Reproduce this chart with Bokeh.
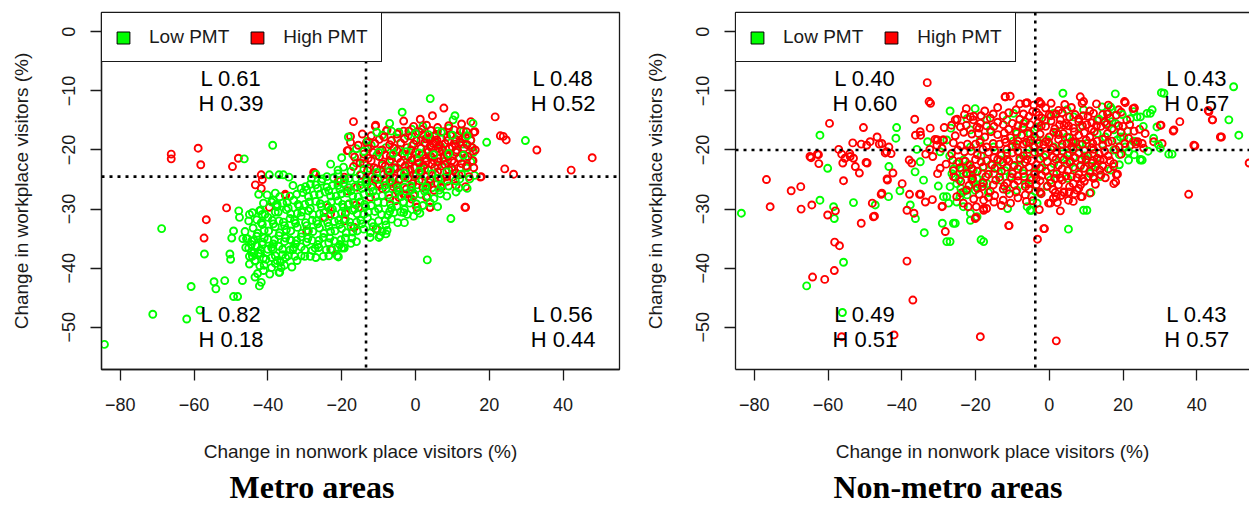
from bokeh.plotting import figure
from bokeh.models import Span, Legend, LegendItem, Title, LinearAxis, FixedTicker, ColumnDataSource, Range1d
from bokeh.layouts import row
from bokeh.embed import file_html
from bokeh.resources import INLINE
from bokeh.core.properties import value

# ---------------- data ----------------
x_ticks = [-80, -60, -40, -20, 0, 20, 40]
y_ticks = [-50, -40, -30, -20, -10, 0]
series_names = ["Low PMT", "High PMT"]
series_colors = ["#00ff00", "#ff0000"]
x_label = "Change in nonwork place visitors (%)"
y_label = "Change in workplace visitors (%)"
panel_titles = ["Metro areas", "Non-metro areas"]

quad_x = [-50, 40, -50, 40]
quad_y = [-10, -10, -50, -50]
metro_L = ["L 0.61", "L 0.48", "L 0.82", "L 0.56"]
metro_H = ["H 0.39", "H 0.52", "H 0.18", "H 0.44"]
nonmetro_L = ["L 0.40", "L 0.43", "L 0.49", "L 0.43"]
nonmetro_H = ["H 0.60", "H 0.57", "H 0.51", "H 0.57"]

metro_median_x = -13.4
metro_median_y = -24.5
nonmetro_median_x = -3.8
nonmetro_median_y = -20.0

metro_low = [
    (-84.3,-52.9),(-71.2,-47.8),(-62.0,-48.6),(-58.4,-47.1),(-60.8,-43.1),(-68.8,-33.3),(-57.2,-37.6),
    (-54.6,-42.3),(-54.1,-43.5),(-51.7,-42.1),(-49.3,-44.8),(-48.2,-44.8),(-46.9,-42.1),(-50.3,-37.6),
    (-50.1,-38.5),(-49.8,-34.9),(-49.3,-33.7),(-47.9,-30.3),(-47.7,-31.4),(-46.4,-21.5),(-38.7,-19.2),
    (-45.0,-30.9),(-42.5,-27.5),(-42.3,-30.3),(-43.4,-38.7),(-45.0,-39.3),(-42.3,-43.0),(-41.8,-42.4),
    (-41.2,-40.4),(-42.8,-40.9),(-45.5,-35.0),(-44.4,-35.4),(-39.6,-24.2),(-37.0,-24.2),(-35.8,-24.2),
    (-34.3,-24.6),(3.2,-38.6),(9.6,-31.6),(19.3,-18.7),(29.8,-18.4),(4.0,-11.3),(10.7,-14.2),(10.2,-14.9),
    (-3.6,-13.6),(15.6,-15.5),(12.9,-19.0),(15.0,-18.4),(15.2,-19.6),(-7.0,-15.5),(-18.2,-17.8),
    (-12.3,-34.8),(-9.6,-34.5),(-8.0,-34.2),(-7.7,-33.6),(-3.2,-30.6),(3.2,-28.0),(3.2,-26.3),(3.7,-25.5),
    (-19.3,-36.6),(-20.9,-38.1),(-26.2,-36.5),(-30.0,-38.0),(-32.1,-38.7),(-32.7,-38.0),(-37.0,-40.7),
    (-36.4,-39.9),(-38.0,-39.2),(15.7,-20.4),(13.8,-23.0),(-9.9,-34.8),(-7.0,-30.4),(-19.5,-36.5),
    (-21.2,-37.9),(-41.5,-36.0),(-43.8,-37.4),(-38.6,-28.5),(-37.5,-29.2),(-41.5,-30.9),(-45.8,-35.0),
    (-44.5,-37.3),(-42.6,-37.5),(-38.6,-36.8),(-36.6,-39.0),(-36.8,-40.7),(-33.2,-36.8),(-33.7,-35.3),
    (-1.0,-16.5),(2.0,-16.0),(6.0,-16.8),(9.0,-16.3),(13.0,-16.8),(-4.5,-17.0),
    (-13.0,-18.5),(-9.0,-17.5),(-5.0,-18.0),(-2.0,-17.6),(1.5,-18.3),(5.0,-18.6),(8.5,-17.8),(11.0,-18.2),
    (-16.0,-19.8),(-12.0,-19.2),(-8.0,-19.6),(-4.5,-19.9),(-1.0,-19.3),(3.0,-20.0),(7.0,-19.5),(11.0,-20.3),
    (-20.0,-21.3),(-17.0,-20.8),(-14.0,-21.5),(-10.5,-20.9),(-6.5,-21.6),(-3.0,-21.0),(0.5,-21.8),(4.0,-21.2),
    (8.0,-21.9),(12.0,-21.4),(15.0,-22.0),
    (-23.0,-22.4),(-19.5,-22.9),(-16.0,-22.2),(-12.5,-23.1),(-9.0,-22.6),(-5.0,-23.0),(-1.5,-22.4),(2.5,-23.2),
    (6.0,-22.7),(10.0,-23.4),(14.0,-23.0),
    (-27.0,-24.1),(-24.0,-24.5),(-21.0,-24.0),(-18.0,-24.8),(-15.0,-24.2),(-11.0,-24.7),(-7.5,-24.3),(-4.0,-24.9),
    (0.0,-24.4),(4.0,-25.0),(8.0,-24.6),(12.0,-24.9),(16.0,-24.3),
    (-31.0,-26.5),(-28.5,-25.8),(-25.5,-25.3),(-22.5,-26.0),(-19.5,-25.6),(-16.5,-26.2),(-13.5,-25.4),(-10.0,-26.1),
    (-6.5,-25.7),(-3.0,-26.3),(0.5,-25.9),(4.5,-26.4),(9.0,-26.1),(14.0,-26.5),
    (-38.0,-27.3),(-34.0,-27.8),(-30.5,-27.2),(-27.5,-27.6),(-24.5,-27.1),(-21.5,-27.8),(-18.5,-27.3),(-15.5,-27.9),
    (-12.5,-27.2),(-9.0,-27.7),(-5.5,-27.4),(-2.0,-28.0),(1.5,-27.5),(5.0,-28.2),(8.5,-27.8),
    (-39.0,-28.8),(-36.0,-29.0),(-33.0,-28.5),(-30.0,-29.2),(-27.0,-28.7),(-24.0,-29.3),(-21.0,-28.6),(-18.0,-29.1),
    (-15.0,-28.8),(-12.0,-29.4),(-8.5,-28.9),(-5.0,-29.5),(-1.5,-29.0),(2.0,-29.4),(6.0,-29.6),
    (-42.0,-30.2),(-38.0,-30.5),(-35.0,-30.1),(-32.0,-30.7),(-29.0,-30.3),(-26.0,-30.8),(-23.0,-30.1),(-20.0,-30.6),
    (-17.0,-30.2),(-14.0,-30.9),(-11.0,-30.4),(-7.5,-31.0),(-4.0,-30.5),(-0.5,-31.2),
    (-43.0,-31.8),(-40.0,-31.4),(-37.0,-32.0),(-34.0,-31.6),(-31.0,-31.2),(-28.0,-31.9),(-25.0,-31.5),(-22.0,-32.1),
    (-19.0,-31.7),(-16.0,-32.2),(-13.0,-31.5),(-10.0,-32.0),(-6.5,-31.7),(-3.0,-32.3),
    (-44.0,-33.2),(-41.0,-33.6),(-38.0,-33.0),(-35.0,-33.5),(-32.0,-33.1),(-29.0,-33.7),(-26.0,-33.2),(-23.0,-33.8),
    (-20.0,-33.3),(-17.0,-33.9),(-14.0,-33.4),(-10.4,-33.4),
    (-43.0,-34.6),(-40.0,-35.1),(-37.0,-34.5),(-34.0,-35.2),(-31.0,-34.7),(-28.0,-35.3),(-25.0,-34.8),(-22.0,-35.4),
    (-19.0,-34.9),(-16.0,-35.5),
    (-46.0,-36.5),(-43.0,-36.2),(-40.0,-36.8),(-37.0,-36.3),(-34.0,-36.9),(-31.0,-36.4),(-28.0,-37.0),(-23.0,-36.8),
    (-21.0,-36.5),
    (-45.0,-38.0),(-42.0,-37.5),(-39.0,-38.2),(-36.0,-37.7),(-25.0,-38.0),
    (-41.0,-39.5),(-39.5,-41.0),(-43.5,-41.5),
    (-10.5,-17.0),(-6.5,-16.8),(0.0,-17.2),(3.5,-17.4),(7.0,-17.0),(10.0,-17.5),(14.0,-17.6),
    (-14.0,-20.2),(-10.0,-20.4),(-6.0,-20.6),(-2.5,-20.3),(1.0,-20.5),(5.0,-20.8),(9.0,-20.6),(13.0,-20.9),
    (-21.0,-23.4),(-17.5,-23.6),(-14.0,-23.3),(-10.5,-23.8),(-7.0,-23.5),(-3.0,-23.9),(1.0,-23.6),(4.5,-24.0),
    (8.5,-23.7),(12.5,-24.1),
    (-29.5,-26.8),(-26.5,-26.5),(-23.5,-26.9),(-20.5,-26.6),(-17.5,-26.9),(-14.5,-26.5),(-11.5,-27.0),(-8.0,-26.6),
    (-4.5,-26.9),(-1.0,-26.7),(2.5,-27.0),(6.5,-26.8),(11.0,-27.1),
    (-37.5,-29.6),(-34.5,-29.8),(-31.5,-29.5),(-28.5,-29.9),(-25.5,-29.6),(-22.5,-30.0),(-19.5,-29.7),(-16.5,-30.0),
    (-13.5,-29.6),(-10.0,-30.0),(-6.5,-29.8),(-3.0,-30.1),(0.5,-30.3),
    (-41.5,-32.6),(-38.5,-32.5),(-35.5,-32.8),(-32.5,-32.4),(-29.5,-32.8),(-26.5,-32.5),(-23.5,-32.9),(-20.5,-32.6),
    (-17.5,-32.9),(-14.5,-32.5),(-11.5,-33.0),(-8.0,-32.7),
    (-44.5,-36.0),(-41.5,-35.6),(-38.5,-35.9),(-35.5,-35.5),(-32.5,-35.9),(-29.5,-35.6),(-26.5,-36.0),(-23.5,-35.7),
    (-20.5,-36.0),(-17.5,-35.8),
    (-43.5,-38.8),(-40.5,-38.5),(-37.5,-38.7),(-34.5,-37.9),(-28.5,-38.0),
    # denser core
    (-28.2,-24.8),(-25.2,-24.9),(-22.2,-24.7),(-19.2,-25.0),(-16.2,-24.8),(-13.2,-25.1),(-10.2,-24.9),(-6.8,-25.2),
    (-2.8,-24.7),(1.8,-25.1),(6.2,-24.8),(10.8,-25.2),(14.7,-24.9),
    (-33.2,-26.0),(-29.8,-26.2),(-27.0,-25.9),(-24.0,-26.3),(-21.0,-26.0),(-18.0,-26.4),(-15.0,-26.0),(-12.0,-26.3),
    (-8.2,-26.0),(-4.8,-26.4),(-1.2,-26.1),(2.8,-26.3),(7.0,-26.0),(11.8,-26.4),
    (-40.2,-27.6),(-36.8,-27.9),(-32.2,-27.5),(-29.0,-27.9),(-26.0,-27.5),(-23.0,-27.8),(-20.0,-27.4),(-17.0,-27.8),
    (-14.0,-27.5),(-10.8,-27.9),(-7.2,-27.6),(-3.8,-27.9),(-0.2,-27.5),(3.2,-27.8),(6.8,-27.4),
    (-41.2,-29.0),(-37.8,-29.3),(-34.8,-28.9),(-31.8,-29.2),(-28.8,-28.8),(-25.8,-29.1),(-22.8,-28.8),(-19.8,-29.2),
    (-16.8,-28.9),(-13.8,-29.2),(-10.2,-28.8),(-6.8,-29.1),(-3.2,-28.8),(0.2,-29.1),(4.0,-28.9),
    (-44.2,-30.6),(-40.8,-30.9),(-37.2,-30.5),(-33.8,-30.8),(-30.8,-30.5),(-27.8,-30.9),(-24.8,-30.6),(-21.8,-30.9),
    (-18.8,-30.5),(-15.8,-30.8),(-12.8,-30.5),(-9.2,-30.9),(-5.8,-30.6),(-2.2,-30.9),(1.2,-30.7),
    (-45.2,-32.0),(-41.8,-32.3),(-38.8,-31.9),(-35.8,-32.2),(-32.8,-31.9),(-29.8,-32.3),(-26.8,-32.0),(-23.8,-32.3),
    (-20.8,-31.9),(-17.8,-32.2),(-14.8,-31.9),(-11.8,-32.3),(-8.2,-32.0),(-4.8,-32.3),
    (-46.2,-33.8),(-42.8,-34.1),(-39.8,-33.7),(-36.8,-34.0),(-33.8,-33.7),(-30.8,-34.1),(-27.8,-33.8),(-24.8,-34.1),
    (-21.8,-33.7),(-18.8,-34.0),(-15.8,-33.7),(-12.2,-34.0),(-9.0,-33.8),
    (-46.8,-35.0),(-43.8,-35.3),(-41.0,-34.9),(-38.2,-35.2),(-35.2,-34.9),(-32.2,-35.3),(-29.2,-35.0),(-26.2,-35.3),
    (-23.2,-34.9),(-20.2,-35.2),(-17.2,-34.9),
    (-45.2,-36.6),(-42.0,-36.9),(-39.0,-36.5),(-36.0,-36.8),(-33.0,-36.5),(-30.0,-36.9),(-27.2,-36.6),(-24.2,-36.9),
    (-20.0,-36.6),
    (-44.2,-38.0),(-41.2,-38.3),(-38.0,-37.9),(-35.2,-38.2),(-31.0,-37.9),(-27.0,-38.2),(-23.5,-37.9),
    (-42.2,-39.6),(-39.0,-39.9),(-35.5,-39.5),(-33.5,-39.8),
]

metro_high = [
    (-66.2,-20.7),(-66.2,-21.5),(-58.9,-19.7),(-58.2,-22.5),(-49.6,-22.8),(-48.0,-21.4),(-51.2,-29.8),
    (-56.7,-31.8),(-57.3,-34.9),(-43.4,-25.9),(-41.8,-24.2),(-41.5,-25.0),(-41.8,-26.5),(-39.6,-29.7),
    (-35.3,-27.5),(-27.3,-23.9),(-22.7,-36.9),(-16.8,-15.2),(-17.6,-17.7),(-17.6,-18.7),(-10.9,-16.0),
    (-10.7,-33.4),(21.6,-14.4),(23.8,-17.7),(24.6,-18.3),(24.2,-23.2),(26.6,-24.1),(32.9,-20.0),(42.2,-23.4),
    (47.9,-21.3),(17.8,-24.5),(13.4,-29.7),(13.6,-26.2),(0.3,-29.7),(4.0,-29.7),(7.2,-26.2),(8.6,-25.3),
    (7.7,-12.9),(4.6,-14.2),(1.3,-14.8),(15.0,-15.2),(16.1,-16.9),(15.6,-20.2),(15.6,-21.8),(-7.7,-16.6),
    (-13.9,-22.3),(-7.0,-25.5),(-5.4,-28.6),(-2.7,-27.5),(-1.1,-26.3),(-16.1,-29.3),(-16.6,-33.1),
    (-20.9,-25.2),(-18.2,-29.2),(-29.5,-33.7),(-24.6,-31.4),(-23.6,-29.7),(-19.3,-32.0),(-18.2,-20.1),
    (-19.3,-24.6),(-10.8,-15.8),(-7.9,-16.8),(-14.4,-17.3),(-18.5,-20.1),(-13.3,-18.7),(-13.0,-19.5),
    (-3.2,-15.1),(-3.2,-16.8),(1.8,-16.5),(12.2,-16.8),(11.7,-17.6),(10.8,-19.0),(15.8,-17.0),(15.4,-19.6),
    (-5.0,-26.9),(-4.5,-28.0),(-3.2,-27.5),(-0.5,-27.7),(0.5,-29.7),(3.9,-29.7),(6.8,-26.3),(13.6,-29.7),
    (17.6,-24.6),(-10.4,-33.4),(-16.7,-33.1),(-15.4,-29.7),(-19.0,-30.8),(-23.0,-30.8),(-27.6,-23.8),
    (-35.2,-27.7),(23.0,-17.6),(-20.3,-25.2),(-18.5,-26.9),(-15.8,-26.3),(-13.1,-25.8),(-12.2,-28.0),
    (-9.5,-20.1),(-6.8,-21.0),(-5.0,-20.1),(-2.3,-19.6),(0.5,-21.3),(-1.8,-22.4),(-5.4,-23.2),(-8.6,-24.1),
    (-5.9,-24.7),(-2.7,-23.5),(-0.5,-24.1),(1.4,-23.0),(5.0,-21.8),(7.7,-21.3),(9.9,-21.8),(12.2,-23.0),
    (13.6,-21.3),(15.4,-21.8),
    (-0.5,-16.0),(3.0,-15.8),(6.0,-16.2),(9.0,-15.9),(12.5,-15.6),
    (-12.0,-17.6),(-8.5,-17.8),(-5.0,-17.3),(-1.0,-17.7),(2.0,-17.4),(4.0,-17.9),(5.5,-17.5),(7.0,-18.0),
    (9.5,-17.4),(11.0,-18.3),(13.5,-17.8),
    (-15.5,-19.2),(-11.0,-18.9),(-7.0,-19.1),(-4.0,-18.8),(-0.5,-19.0),(2.5,-18.8),(4.0,-19.3),(5.5,-18.7),
    (6.5,-19.2),(8.0,-18.9),(10.0,-19.5),(12.0,-18.7),(14.0,-19.1),
    (-14.0,-20.7),(-11.5,-20.4),(-8.0,-20.9),(-3.5,-20.6),(0.0,-20.4),(2.0,-20.8),(3.5,-20.3),(5.0,-20.6),
    (6.5,-20.2),(8.5,-20.7),(11.0,-20.4),(13.0,-20.8),
    (-15.0,-22.2),(-12.0,-21.8),(-9.0,-22.3),(-7.0,-21.9),(-4.0,-22.1),(-1.0,-21.7),(1.0,-22.2),(3.0,-21.9),
    (4.5,-22.4),(6.0,-22.0),(8.0,-22.5),(10.5,-22.1),(12.5,-22.3),
    (-13.0,-23.5),(-10.5,-23.2),(-7.5,-23.7),(-4.0,-23.9),(-1.5,-23.3),(1.5,-23.8),(3.5,-23.4),(6.0,-23.7),
    (9.0,-23.3),(11.0,-23.9),
    (-11.0,-25.0),(-8.0,-25.3),(-4.5,-25.1),(-2.0,-24.8),(1.0,-25.2),(4.0,-24.9),(7.0,-25.0),(10.0,-24.6),
    (-9.0,-26.5),(-6.0,-26.2),(-2.5,-26.6),(2.0,-26.3),(5.0,-26.8),
    (-7.0,-28.2),(-1.0,-28.3),(3.0,-28.0),
    (3.8,-18.2),(4.8,-18.9),(5.8,-18.3),(4.3,-19.6),(5.2,-17.6),(6.2,-19.7),
    # denser core
    (-1.8,-16.8),(1.0,-16.9),(4.2,-16.7),(7.5,-16.9),(10.5,-16.6),(13.8,-16.9),
    (-9.8,-18.2),(-6.5,-18.4),(-3.0,-18.1),(0.2,-18.4),(2.8,-18.1),(8.8,-18.4),(12.8,-18.1),(15.0,-18.3),
    (-12.8,-19.8),(-9.0,-20.0),(-5.8,-19.7),(-1.2,-20.0),(1.5,-19.7),(7.2,-20.0),(9.2,-19.7),(11.2,-20.0),
    (13.2,-19.7),(16.2,-20.0),
    (-16.5,-21.2),(-12.8,-21.4),(-9.8,-21.1),(-4.8,-21.4),(-2.0,-21.1),(2.8,-21.4),(4.2,-21.1),(6.2,-21.4),
    (8.8,-21.1),(11.8,-21.4),(14.2,-21.1),
    (-16.8,-22.8),(-11.2,-23.0),(-8.2,-22.7),(-5.8,-23.0),(-2.8,-22.7),(-0.2,-23.0),(2.2,-22.7),(5.2,-23.0),
    (7.2,-22.7),(9.8,-23.0),(13.8,-22.7),(15.8,-23.0),
    (-14.8,-24.3),(-11.8,-24.5),(-6.8,-24.2),(-3.2,-24.5),(0.2,-24.2),(2.8,-24.5),(5.5,-24.2),(8.5,-24.5),
    (11.8,-24.2),(14.5,-24.5),
    (-9.8,-25.8),(-5.2,-26.0),(-0.8,-25.7),(3.2,-26.0),(6.0,-25.7),(11.0,-26.0),
]

nonmetro_low = [
    (-83.5,-30.7),(-62.2,-17.5),(-60.1,-23.1),(-62.2,-28.5),(-58.5,-29.6),(-58.3,-31.6),(-65.8,-43.0),
    (-55.8,-39.0),(-56.1,-47.5),(-53.1,-28.9),(-47.2,-29.3),(-43.5,-22.8),(-41.4,-16.2),(-41.6,-18.0),
    (-43.6,-27.9),(-40.5,-26.9),(-37.7,-29.3),(-36.3,-31.6),(-33.9,-34.0),(-35.9,-19.9),(-33.0,-18.6),
    (-35.0,-22.0),(-36.4,-23.7),(-34.1,-25.1),(-30.1,-26.1),(-26.9,-13.4),(-26.7,-16.3),(-27.8,-18.3),
    (-29.6,-20.3),(-28.7,-27.9),(-27.3,-29.0),(-25.1,-28.8),(-23.3,-29.6),(-29.0,-32.4),(-25.5,-32.4),
    (-27.8,-35.5),(-21.4,-30.7),(-19.6,-31.3),(-23.3,-27.1),(-22.3,-27.6),(-21.4,-31.9),(-17.8,-35.5),
    (-18.5,-35.2),(-20.1,-13.0),(-22.3,-14.7),(-21.4,-16.6),(-25.1,-22.3),(-23.7,-23.4),(-21.4,-24.2),
    (-19.6,-24.8),(-20.1,-26.8),(-17.8,-25.7),
    (3.7,-10.4),(17.9,-10.5),(14.3,-12.7),(16.6,-12.7),(15.7,-13.5),(22.9,-13.5),(24.7,-14.4),(26.5,-13.8),
    (27.9,-13.2),(29.2,-16.1),(28.3,-18.0),(24.7,-21.7),(21.5,-21.7),(16.6,-23.4),(13.8,-24.5),(11.1,-24.0),
    (8.4,-22.8),(6.6,-21.2),(12.0,-20.6),(9.3,-30.2),(5.2,-33.4),(-6.0,-29.6),(-3.3,-29.0),(-2.4,-27.3),
    (-0.6,-26.2),(0.3,-25.1),(1.2,-24.0),(-4.7,-25.1),(-7.9,-21.7),(-6.0,-20.6),(-4.3,-19.5),(-3.3,-18.3),
    (-5.2,-17.2),(-3.3,-16.1),(-7.0,-15.5),(-8.8,-17.2),(-16.0,-16.6),(-16.9,-14.9),(-11.5,-14.9),(-9.7,-13.8),
    (-15.1,-19.5),(-18.7,-18.3),(-21.4,-19.5),(-23.3,-21.7),(-23.3,-24.0),(-20.6,-23.4),(-17.8,-22.8),
    (-15.1,-24.0),(-13.3,-25.1),(-16.9,-25.7),(-19.6,-26.2),(-22.3,-26.8),(-25.1,-25.7),(-9.7,-22.8),
    (-10.6,-24.5),(-11.5,-26.8),(-8.8,-26.8),(-13.3,-21.7),(-11.5,-20.6),(3.0,-21.2),(4.8,-22.3),(1.2,-22.3),
    (3.4,-19.5),(4.8,-17.8),(8.4,-16.1),(10.2,-18.9),(13.0,-17.2),(15.7,-15.5),(17.5,-16.6),(19.3,-17.8),
    (20.6,-19.5),(17.5,-20.0),(13.0,-22.3),(6.6,-14.4),(9.3,-13.2),(4.8,-13.2),(1.2,-13.8),(-0.6,-18.3),
    (-1.5,-21.2),(7.5,-19.5),(1.2,-19.5),(-26.9,-26.2),(-26.4,-24.0),(-24.2,-27.9),(-27.8,-27.9),
    (17.0,-13.1),(22.0,-14.7),(23.8,-14.4),(27.4,-13.8),(30.4,-10.3),(32.4,-20.7),(30.1,-19.7),(24.7,-21.6),
    (21.5,-20.3),(18.4,-18.3),(20.2,-17.8),(17.0,-15.2),(50.0,-9.3),(48.7,-14.9),(51.4,-17.5),(-5.2,-30.2),
    (-26.0,-32.4),(-26.9,-35.5),(-11.3,-29.9),(-4.8,-30.2),(-4.8,-27.9),(11.3,-27.2),(10.2,-30.2),(25.2,-21.7),
    (33.3,-20.7),(29.6,-19.1),(31.1,-10.4),
    (-14.0,-23.0),(-18.5,-21.0),(-12.0,-23.5),(-7.0,-24.0),(-2.0,-23.0),(2.0,-17.0),(6.0,-18.5),(10.0,-21.5),
    (14.5,-19.0),(19.0,-22.5),(-9.0,-19.5),(-1.0,-15.0),
    # denser patches
    (-26.0,-23.2),(-24.5,-25.0),(-22.0,-22.6),(-20.5,-25.5),(-18.2,-24.0),(-16.5,-27.2),(-15.8,-22.5),(-24.0,-26.5),
    (-27.0,-21.0),(-9.8,-18.5),(-8.0,-22.8),(-6.5,-25.8),(-5.5,-18.8),(-4.0,-23.8),(-2.8,-20.5),(-7.2,-16.2),
    (-3.8,-27.0),(5.5,-20.5),(7.0,-23.2),(9.5,-21.0),(11.5,-22.8),(8.2,-19.0),(5.0,-24.8),
    (13.5,-14.8),(15.2,-17.8),(18.0,-15.5),(19.8,-14.0),(21.2,-16.8),(22.8,-18.5),(25.5,-16.0),(26.8,-20.2),
    (23.0,-20.8),(19.0,-20.8),
]

nonmetro_high = [
    (-33.1,-8.6),(-32.2,-12.1),(-32.6,-11.8),(-59.6,-15.5),(-50.4,-16.2),(-46.7,-17.8),(-48.6,-18.6),
    (-51.0,-19.0),(-54.1,-20.6),(-53.1,-21.4),(-52.6,-22.8),(-51.5,-23.9),(-49.4,-22.2),(-57.1,-19.9),
    (-56.3,-20.7),(-62.6,-20.8),(-62.5,-22.3),(-64.6,-21.3),(-55.8,-25.2),(-76.7,-25.0),(-75.7,-29.6),
    (-70.0,-26.9),(-67.4,-26.2),(-67.3,-30.0),(-64.4,-29.3),(-60.1,-31.0),(-58.0,-30.3),(-58.2,-35.6),
    (-56.9,-36.2),(-58.3,-40.4),(-64.2,-41.5),(-60.9,-41.9),(-51.0,-32.4),(-48.0,-29.0),(-47.4,-31.2),
    (-45.6,-27.5),(-44.0,-24.9),(-42.4,-23.9),(-42.9,-20.6),(-46.1,-19.0),(-44.5,-20.5),(-43.5,-19.5),
    (-39.9,-25.7),(-38.6,-30.2),(-36.7,-30.7),(-37.3,-22.2),(-37.9,-27.5),(-38.6,-38.8),(-37.0,-45.4),
    (-34.9,-27.5),(-33.6,-28.8),(-33.5,-20.7),(-32.4,-19.9),(-36.5,-14.8),(-34.9,-17.5),(-30.3,-24.0),
    (-31.7,-28.4),(-29.0,-29.5),(-28.2,-33.8),(-19.9,-31.4),(-18.7,-51.6),(-42.1,-51.3),(-56.3,-51.6),
    (1.9,-52.3),(-3.2,-35.1),(-1.3,-33.3),(-10.9,-32.8),(37.8,-27.5),(39.5,-19.3),(46.7,-17.8),(44.3,-14.9),
    (43.1,-13.3),(54.2,-22.2),(35.4,-15.2),(33.8,-16.6),(30.3,-15.8),(30.6,-18.9),(23.1,-12.9),(20.4,-11.8),
    (-49.5,-19.2),(-45.4,-18.9),(-44.1,-20.3),(-54.0,-21.1),(-49.7,-22.1),(-47.7,-31.3),(-35.2,-27.5),
    (-32.3,-16.3),(-30.5,-18.3),(-30.5,-19.2),(-28.7,-18.3),(-29.1,-19.7),(-31.6,-21.1),(-29.6,-23.1),
    (-29.1,-29.6),(-26.0,-24.5),(-24.0,-27.3),(-22.3,-24.0),(-21.0,-23.1),(-17.8,-30.2),(-17.8,-28.5),
    (-19.8,-29.6),(-20.6,-14.9),(-19.6,-16.1),(-21.4,-14.4),(-25.5,-14.9),(-18.7,-15.5),
    (-53.3,-18.8),(-55.4,-21.4),(-56.0,-22.2),(-64.9,-21.1),(-62.9,-20.7),(-43.9,-25.1),(-45.4,-27.3),
    (-38.0,-21.7),(-36.3,-17.5),(-35.0,-16.9),(-31.0,-18.2),
    (-11.9,-11.0),(-10.6,-10.9),(-2.6,-12.0),(8.4,-11.0),(9.3,-11.8),(20.6,-12.0),(22.7,-13.0),(18.8,-13.2),
    (17.5,-22.8),(18.2,-24.2),(22.0,-19.2),(23.3,-18.6),(25.2,-18.9),(25.6,-19.7),(28.3,-18.6),(30.1,-15.8),
    (33.6,-16.8),(39.2,-19.2),(43.3,-13.5),(44.2,-14.9),(46.4,-17.8),(-11.0,-32.8),(-1.5,-33.3),(0.3,-29.0),
    (1.9,-27.9),(3.9,-27.1),(5.2,-28.5),(8.0,-26.5),(8.9,-27.9),(12.0,-24.8),(13.7,-23.4),(13.8,-21.7),
    (17.5,-25.7),(-17.8,-29.9),(-20.1,-31.6),(-23.3,-29.0),(-25.1,-27.9),
    (-12.0,-11.0),(-6.4,-12.1),(-2.7,-11.8),(-2.2,-12.2),(8.9,-12.1),(-6.0,-12.0),
    (-17.5,-13.4),(-14.0,-12.8),(-9.0,-13.2),(-4.5,-13.5),(-1.0,-12.9),(2.5,-13.3),(6.0,-12.8),(11.0,-13.4),
    (14.5,-14.0),(19.5,-13.6),(-22.5,-13.0),
    (-25.0,-14.8),(-24.1,-16.1),(-20.5,-14.3),(-16.0,-14.6),(-12.5,-14.2),(-8.0,-14.8),(-5.5,-14.3),(-2.0,-14.6),
    (0.5,-14.2),(3.0,-14.9),(5.5,-14.4),(8.0,-14.7),(10.5,-14.3),(13.0,-15.0),(16.5,-14.6),(21.0,-14.9),(24.5,-16.5),
    (-28.5,-16.2),(-22.5,-15.8),(-19.0,-16.3),(-15.0,-16.0),(-11.0,-16.5),(-7.0,-16.1),(-4.0,-16.6),(-1.0,-16.0),
    (1.5,-16.4),(4.0,-15.8),(6.5,-16.3),(9.0,-15.9),(11.5,-16.5),(14.0,-16.0),(17.0,-16.4),(20.0,-16.0),
    (23.0,-16.8),(26.0,-17.2),
    (-30.3,-18.3),(-28.8,-18.3),(-25.5,-17.6),(-21.0,-17.3),(-17.5,-17.8),(-14.0,-17.4),(-10.5,-17.9),(-7.5,-17.5),
    (-2.5,-17.3),(0.0,-17.8),(2.5,-17.4),(5.5,-17.9),(8.0,-17.5),(11.0,-17.8),(14.5,-18.2),(17.0,-18.5),
    (21.5,-18.0),(24.0,-18.6),
    (-24.0,-19.3),(-20.0,-19.0),(-17.0,-19.5),(-13.5,-19.0),(-10.0,-19.4),(-7.0,-19.0),(-4.0,-19.5),(-1.5,-19.1),
    (1.0,-19.6),(3.5,-19.0),(6.0,-19.4),(9.0,-19.0),(11.5,-19.6),(14.5,-19.2),(19.0,-19.5),(23.5,-19.0),
    (-26.5,-20.6),(-23.0,-20.3),(-19.5,-20.8),(-16.5,-20.4),(-13.0,-20.9),(-10.0,-20.5),(-7.0,-21.0),(-4.0,-20.4),
    (-1.0,-20.8),(2.0,-20.3),(5.0,-20.9),(8.0,-20.5),(10.5,-21.0),(13.5,-20.6),(16.0,-21.0),(19.5,-20.7),
    (-28.0,-22.4),(-24.5,-22.0),(-21.5,-22.5),(-18.5,-22.0),(-15.5,-22.5),(-12.5,-22.1),(-9.5,-22.6),(-6.5,-22.1),
    (-3.5,-22.5),(-0.5,-22.0),(2.5,-22.6),(5.5,-22.1),(8.5,-22.6),(11.5,-22.2),(14.5,-22.7),(17.5,-22.3),
    (-26.0,-23.5),(-22.5,-24.0),(-19.5,-23.6),(-16.5,-24.1),(-13.0,-23.6),(-10.0,-24.0),(-7.0,-23.5),(-4.0,-24.1),
    (-1.0,-23.6),(2.0,-24.0),(5.0,-23.5),(8.0,-24.1),(11.0,-23.6),(14.0,-24.2),(18.0,-25.4),(18.5,-24.1),
    (-24.0,-25.3),(-21.0,-25.0),(-18.0,-25.5),(-14.5,-25.1),(-11.5,-25.6),(-8.5,-25.2),(-5.5,-25.7),(-2.5,-25.2),
    (0.5,-25.6),(3.5,-25.1),(6.5,-25.7),(9.5,-25.3),(12.5,-25.8),
    (-22.5,-26.8),(-19.5,-26.5),(-16.0,-27.0),(-12.5,-26.6),(-9.0,-27.1),(-5.5,-26.6),(-2.5,-27.1),(1.0,-26.7),
    (4.0,-27.2),(7.5,-26.8),(11.0,-27.3),
    (-20.5,-28.3),(-16.5,-28.0),(-12.5,-28.5),(-8.5,-28.1),(-4.5,-28.6),(1.1,-28.2),(1.6,-27.2),(5.4,-27.1),(8.6,-27.9),
    (-22.0,-29.6),(-17.0,-29.9),(-13.0,-29.4),(-0.2,-29.0),(-2.7,-30.1),(3.0,-30.3),
    (-11.0,-13.7),(-7.0,-13.9),(-3.5,-13.6),(0.0,-14.0),(3.5,-13.7),(7.0,-14.0),(12.0,-13.8),
    (-14.0,-15.3),(-10.0,-15.5),(-6.5,-15.2),(-3.0,-15.4),(0.5,-15.1),(4.5,-15.5),(8.0,-15.2),(11.5,-15.4),(15.0,-15.3),
    (-12.0,-18.2),(-8.5,-18.5),(-5.0,-18.3),(-1.0,-18.6),(2.5,-18.2),(6.5,-18.6),(10.0,-18.3),(13.0,-18.5),
    (-15.0,-21.3),(-11.5,-21.6),(-8.0,-21.4),(-2.5,-21.5),(1.0,-21.2),(4.0,-21.6),(7.0,-21.3),(10.0,-21.7),
    (13.0,-21.4),(16.5,-21.8),
    (-13.5,-24.6),(-8.5,-24.4),(-5.0,-24.7),(-2.0,-24.3),(1.5,-24.8),(4.5,-24.4),(7.5,-24.7),(10.5,-24.5),
    # denser core
    (-8.0,-12.2),(-4.2,-12.4),(0.5,-12.1),(4.2,-12.3),(12.8,-12.2),(16.0,-12.4),
    (-23.0,-14.0),(-18.5,-14.2),(-15.2,-13.9),(-2.8,-14.1),(1.8,-13.9),(9.2,-14.2),(15.8,-13.9),(18.2,-14.1),
    (-26.5,-15.8),(-17.0,-15.9),(-12.5,-15.7),(-8.5,-15.9),(-5.2,-15.7),(-2.2,-15.9),(2.8,-15.7),(5.2,-15.9),
    (10.2,-15.7),(12.8,-15.9),(15.5,-15.7),(18.8,-15.9),(21.8,-15.7),
    (-23.2,-17.0),(-19.2,-17.2),(-15.8,-16.9),(-12.2,-17.1),(-9.0,-16.9),(-5.8,-17.2),(-4.0,-17.8),(1.2,-17.0),
    (3.8,-17.2),(6.8,-16.9),(9.5,-17.1),(12.2,-16.9),(15.8,-17.2),(19.5,-17.0),
    (-26.0,-18.8),(-22.2,-19.0),(-18.8,-18.7),(-15.2,-18.9),(-11.8,-18.7),(-8.8,-19.0),(-6.2,-18.7),(-2.8,-18.9),
    (-0.2,-18.7),(4.8,-18.9),(7.2,-18.7),(11.8,-18.9),(16.0,-18.7),(20.5,-18.9),
    (-24.8,-20.0),(-21.2,-20.2),(-18.0,-19.9),(-14.8,-20.1),(-11.5,-19.9),(-8.5,-20.2),(-5.5,-19.9),(-2.5,-20.1),
    (0.5,-19.9),(3.5,-20.2),(6.5,-19.9),(9.5,-20.1),(12.0,-19.9),(15.0,-20.2),(18.0,-19.9),
    (-26.2,-21.7),(-22.8,-21.9),(-20.0,-21.6),(-17.0,-21.8),(-14.0,-21.6),(-11.0,-21.9),(-6.0,-21.6),(-4.8,-21.8),
    (1.8,-21.6),(5.8,-21.9),(8.8,-21.6),(11.8,-21.8),(14.8,-21.6),
    (-24.2,-23.0),(-21.0,-23.2),(-18.0,-22.9),(-14.8,-23.1),(-11.5,-22.9),(-8.5,-23.2),(-5.5,-22.9),(-2.5,-23.1),
    (0.5,-22.9),(3.5,-23.2),(6.5,-22.9),(9.5,-23.1),(12.5,-22.9),(16.0,-23.2),
    (-25.5,-24.6),(-20.8,-24.8),(-17.2,-24.5),(-10.2,-24.7),(-6.8,-24.5),(-3.5,-24.8),(-0.2,-24.5),(3.0,-24.7),
    (6.0,-24.5),(9.0,-24.8),(12.0,-24.5),(15.2,-24.7),
    (-21.8,-26.0),(-18.2,-26.2),(-15.2,-25.9),(-12.2,-26.1),(-9.5,-25.9),(-6.5,-26.2),(-3.5,-25.9),(-0.5,-26.1),
    (2.5,-25.9),(5.5,-26.2),(8.5,-25.9),
    (-19.0,-27.5),(-14.8,-27.7),(-10.8,-27.4),(-6.5,-27.6),(-2.2,-27.4),(3.2,-27.7),(6.8,-27.4),
    (-15.0,-28.8),(-10.5,-29.0),(-6.2,-28.7),(2.2,-28.9),(6.5,-28.7),
]

# ---------------- drawing ----------------
INK = "#1a1a1a"
FONT = "Liberation Sans"
FIG_H = 508
NAN = float("nan")


def interleave(low, high):
    xs, ys, cs = [], [], []
    for i in range(max(len(low), len(high))):
        if i < len(low):
            xs.append(low[i][0]); ys.append(low[i][1]); cs.append(series_colors[0])
        if i < len(high):
            xs.append(high[i][0]); ys.append(high[i][1]); cs.append(series_colors[1])
    return ColumnDataSource(dict(x=xs, y=ys, color=cs))


def make_panel(low, high, Ls, Hs, mx, my, title, width, b_left, b_right, x_end, title_offset, open_right):
    p = figure(width=width, height=FIG_H, x_range=Range1d(-85.1, x_end), y_range=Range1d(-57.15, 3.27),
               output_backend="svg", toolbar_location=None, title=None,
               min_border_left=b_left, min_border_right=b_right, min_border_top=12, min_border_bottom=139)
    p.xgrid.visible = False
    p.ygrid.visible = False
    p.background_fill_color = "white"
    p.border_fill_color = "white"

    xa = p.below[0]
    ya = p.left[0]
    xa.ticker = FixedTicker(ticks=x_ticks)
    ya.ticker = FixedTicker(ticks=y_ticks)
    xa.axis_label = x_label
    ya.axis_label = y_label
    for ax in (xa, ya):
        ax.major_tick_out = 11
        ax.major_tick_in = 0
        ax.minor_tick_out = 0
        ax.minor_tick_in = 0
        ax.axis_line_color = INK
        ax.axis_line_width = 1.3
        ax.major_tick_line_color = INK
        ax.major_tick_line_width = 1.3
        ax.major_label_text_font = FONT
        ax.major_label_text_font_size = "18px"
        ax.major_label_text_color = INK
        ax.axis_label_text_font = FONT
        ax.axis_label_text_font_size = "19px"
        ax.axis_label_text_font_style = "normal"
        ax.axis_label_text_color = INK
    xa.major_label_standoff = 17
    xa.axis_label_standoff = 27
    ya.major_label_orientation = "vertical"
    ya.major_label_standoff = 15
    ya.axis_label_standoff = 28

    if open_right:
        p.outline_line_color = None
        top = LinearAxis(ticker=FixedTicker(ticks=[]), major_tick_out=0, major_tick_in=0,
                         minor_tick_out=0, minor_tick_in=0, major_label_text_font_size="0px",
                         axis_line_color=INK, axis_line_width=1.3)
        p.add_layout(top, "above")
    else:
        p.outline_line_color = INK
        p.outline_line_width = 1.3
        p.outline_line_alpha = 1.0

    src = interleave(low, high)
    p.scatter("x", "y", source=src, marker="circle", size=7, fill_color=None,
              line_color="color", line_width=1.9)

    p.text(x=quad_x, y=quad_y, text=Ls, y_offset=-12.5, text_align="center", text_baseline="middle",
           text_font=value(FONT), text_font_size="22px", text_color="black")
    p.text(x=quad_x, y=quad_y, text=Hs, y_offset=12.5, text_align="center", text_baseline="middle",
           text_font=value(FONT), text_font_size="22px", text_color="black")

    p.add_layout(Span(location=mx, dimension="height", line_color="black", line_width=2.6, line_dash="3 5"))
    p.add_layout(Span(location=my, dimension="width", line_color="black", line_width=2.6, line_dash="3 5"))

    g_dummy = p.quad(left=[NAN], right=[NAN], top=[NAN], bottom=[NAN], fill_color=series_colors[0],
                     line_color="black", line_width=1)
    r_dummy = p.quad(left=[NAN], right=[NAN], top=[NAN], bottom=[NAN], fill_color=series_colors[1],
                     line_color="black", line_width=1)
    legend = Legend(items=[LegendItem(label=series_names[0], renderers=[g_dummy]),
                           LegendItem(label=series_names[1], renderers=[r_dummy])],
                    location="top_left", orientation="horizontal", margin=0, padding=13, spacing=20,
                    glyph_width=16, glyph_height=15, label_standoff=18,
                    label_text_font=FONT, label_text_font_size="19px", label_text_color=INK,
                    border_line_color=INK, border_line_width=1.3, border_line_alpha=1.0,
                    background_fill_color="white", background_fill_alpha=1.0)
    p.add_layout(legend)

    title_kw = dict(text=title, align="left", offset=title_offset, text_font="Liberation Serif",
                    text_font_style="bold", text_font_size="32px", text_color="black")
    if "standoff" in Title.properties():
        title_kw["standoff"] = 5
    p.add_layout(Title(**title_kw), "below")
    return p


p1 = make_panel(metro_low, metro_high, metro_L, metro_H, metro_median_x, metro_median_y, panel_titles[0],
                635, 101, 16, 55.3, 128, False)
p2 = make_panel(nonmetro_low, nonmetro_high, nonmetro_L, nonmetro_H, nonmetro_median_x, nonmetro_median_y,
                panel_titles[1], 614, 100, 0, 54.3, 98, True)

layout = row(p1, p2)
open("out.html", "w").write(file_html(layout, INLINE))
